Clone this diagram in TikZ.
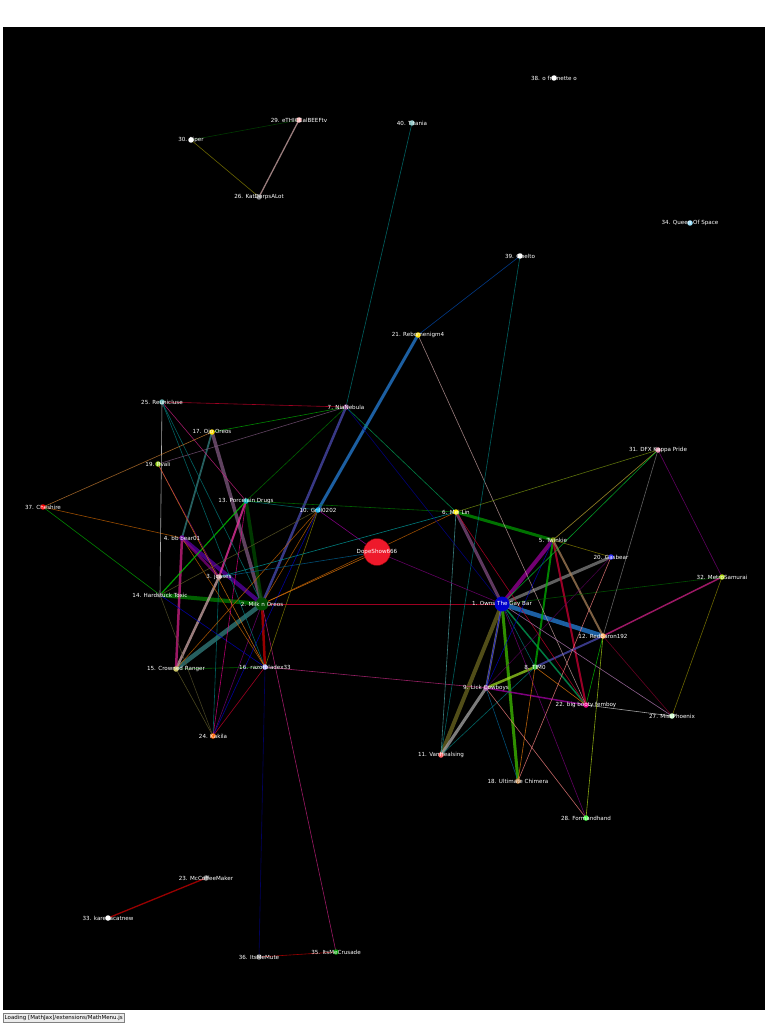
\documentclass[tikz,border=0pt]{standalone}
\usepackage{fontspec}
\setmainfont{DejaVu Sans}
\begin{document}
\begin{tikzpicture}[x=1pt,y=-1pt,
  e/.style={draw=#1,line width=0.6pt,opacity=0.75},
  dot/.style={circle,fill=#1,inner sep=0pt,minimum size=5.5pt},
  lbl/.style={text=white,font=\fontsize{5.6}{6.5}\selectfont,inner sep=0pt}]
\useasboundingbox (0,0) rectangle (768,1024);
\fill[white] (0,0) rectangle (768,1024);
\fill[black] (3,27) rectangle (765,1010);
\foreach \n/\x/\y in {1/502/604,2/262/604,3/219/577,4/182/538,5/553/540,6/456/512,7/346/407,8/535/667,9/486/688,10/318/510,11/441/755,12/603/636,13/246/501,14/160/595,15/176/669,16/265/667,17/212/432,18/518/781,19/158/464,20/611/557,21/418/335,22/586/705,23/206/878,24/213/736,25/162/402,26/259/197,27/672/716,28/586/818,29/299/120,30/191/140,31/658/450,32/722/577,33/108/918,34/690/223,35/336/952,36/259/957,37/43/507,38/554/78,39/520/256,40/412/123,41/377/552}
  \coordinate (n\n) at (\x,\y);
% thick edges
\draw[e=green!50!black,line width=4pt] (n2)--(n14);
\draw[e=violet!70!blue,line width=4pt] (n2)--(n4);
\draw[e=gray!70!violet,line width=3.5pt] (n2)--(n17);
\draw[e=teal!60!gray,line width=4.5pt] (n2)--(n15);
\draw[e=gray!60!blue,line width=2.5pt] (n2)--(n7);
\draw[e=green!30!black,line width=3.5pt] (n2)--(n13);
\draw[e=red!80!black,line width=2.5pt] (n2)--(n16);
\draw[e=pink!60!gray,line width=2.5pt] (n3)--(n15);
\draw[e=magenta!80,line width=2pt] (n3)--(n13);
\draw[e=violet,line width=2.5pt] (n3)--(n4);
\draw[e=magenta!70!violet,line width=2.5pt] (n4)--(n15);
\draw[e=teal!60!gray,line width=1.8pt] (n4)--(n17);
\draw[e=blue!50!cyan!70!gray,line width=3pt] (n10)--(n21);
\draw[e=green!60!black,line width=3pt] (n6)--(n5);
\draw[e=gray!60!violet,line width=3pt] (n6)--(n1);
\draw[e=violet!80!magenta,line width=4pt] (n1)--(n5);
\draw[e=gray,line width=3pt] (n1)--(n20);
\draw[e=blue!50!cyan!70!gray,line width=4.5pt] (n1)--(n12);
\draw[e=olive!70!black,line width=4pt] (n1)--(n11);
\draw[e=green!50!olive,line width=3pt] (n1)--(n18);
\draw[e=gray,line width=2pt] (n1)--(n9);
\draw[e=teal!70!green,line width=1.5pt] (n1)--(n22);
\draw[e=green!70!black,line width=2pt] (n5)--(n8);
\draw[e=purple!80!red,line width=2pt] (n5)--(n22);
\draw[e=brown!60!gray,line width=2pt] (n5)--(n12);
\draw[e=gray!60!blue,line width=2pt] (n8)--(n12);
\draw[e=yellow!60!green,line width=2.5pt] (n8)--(n9);
\draw[e=gray!70,line width=3pt] (n9)--(n11);
\draw[e=violet!70!magenta,line width=1.5pt] (n9)--(n22);
\draw[e=magenta!70!violet,line width=1.5pt] (n12)--(n32);
\draw[e=red!80!black,line width=1.3pt] (n23)--(n33);
\draw[e=pink!60!gray,line width=1.3pt] (n29)--(n26);
\draw[e=green!40!black] (n5)--(n31);
% thin edges
\draw[e=orange!80!black] (n2)--(n10);
\draw[e=purple!70!red] (n2)--(n1);
\draw[e=orange!80!black] (n2)--(n6);
\draw[e=teal] (n2)--(n25);
\draw[e=violet] (n2)--(n24);
\draw[e=magenta!70!violet] (n2)--(n35);
\draw[e=orange!80!black] (n4)--(n16);
\draw[e=orange!80!black] (n4)--(n37);
\draw[e=green!70!black] (n14)--(n37);
\draw[e=green!80!black,line width=1.2pt] (n14)--(n13);
\draw[e=white!80!gray] (n14)--(n25);
\draw[e=blue!80!black] (n14)--(n16);
\draw[e=olive!60!black] (n14)--(n10);
\draw[e=olive!50!black] (n14)--(n24);
\draw[e=green!50!black] (n15)--(n16);
\draw[e=olive!60!black] (n15)--(n24);
\draw[e=magenta!60!violet] (n16)--(n9);
\draw[e=blue!50!black] (n16)--(n36);
\draw[e=purple!70!red] (n16)--(n24);
\draw[e=blue!80!black] (n24)--(n10);
\draw[e=magenta] (n24)--(n13);
\draw[e=teal] (n24)--(n3);
\draw[e=purple!70!red] (n25)--(n7);
\draw[e=teal] (n25)--(n16);
\draw[e=magenta!70!violet] (n25)--(n13);
\draw[e=green!70!black] (n17)--(n7);
\draw[e=brown!80!orange] (n37)--(n17);
\draw[e=violet] (n19)--(n3);
\draw[e=orange!70!brown] (n19)--(n16);
\draw[e=gray!70!violet] (n19)--(n7);
\draw[e=violet!70!magenta] (n10)--(n41);
\draw[e=teal] (n10)--(n13);
\draw[e=olive] (n10)--(n16);
\draw[e=orange!80!black] (n10)--(n15);
\draw[e=teal!70!cyan] (n3)--(n6);
\draw[e=green!50!black] (n13)--(n6);
\draw[e=green!50!black] (n13)--(n7);
\draw[e=teal] (n7)--(n40);
\draw[e=teal!70!green] (n7)--(n6);
\draw[e=blue!60!black] (n7)--(n1);
\draw[e=blue!40!teal] (n21)--(n39);
\draw[e=pink!60!gray] (n21)--(n22);
\draw[e=teal] (n39)--(n11);
\draw[e=olive!70!green] (n6)--(n31);
\draw[e=teal!70] (n6)--(n11);
\draw[e=purple!70!red] (n6)--(n22);
\draw[e=violet] (n41)--(n1);
\draw[e=orange!80!brown] (n41)--(n2);
\draw[e=violet] (n1)--(n28);
\draw[e=green!40!black] (n1)--(n32);
\draw[e=violet!50!white] (n1)--(n27);
\draw[e=blue] (n1)--(n9);
\draw[e=teal] (n1)--(n8);
\draw[e=brown!80!orange] (n5)--(n31);
\draw[e=olive] (n5)--(n20);
\draw[e=blue!80!black] (n5)--(n9);
\draw[e=orange!80!brown] (n8)--(n18);
\draw[e=orange!80!brown] (n8)--(n22);
\draw[e=teal] (n8)--(n11);
\draw[e=pink!70!red] (n9)--(n28);
\draw[e=teal!80!blue] (n9)--(n18);
\draw[e=white!70!gray] (n22)--(n27);
\draw[e=green!80!black] (n12)--(n22);
\draw[e=yellow!70!green] (n12)--(n28);
\draw[e=purple!70!black] (n12)--(n27);
\draw[e=pink!70!red] (n20)--(n18);
\draw[e=violet!70!black] (n20)--(n9);
\draw[e=violet] (n31)--(n32);
\draw[e=gray] (n31)--(n12);
\draw[e=green!60!teal] (n31)--(n1);
\draw[e=olive] (n32)--(n27);
\draw[e=red!80!black] (n35)--(n36);
\draw[e=olive] (n30)--(n26);
\draw[e=green!30!black] (n30)--(n29);
\draw[e=teal!80!blue] (n41)--(n3);
% dots
\foreach \n/\c in {1/blue,2/green!30!black,3/pink!60!gray,4/violet!80!blue,5/olive!70!green,6/yellow,7/violet!50!gray,8/green!50!gray,9/violet!60!white,10/cyan,11/red!60!white,12/orange!70!white,13/cyan!60!green,14/gray!40!black,15/yellow!50!gray,16/blue!30!white,17/yellow!80!orange,18/brown,19/yellow!60!green,20/blue!80!white,21/yellow!80!orange,22/magenta,23/gray,24/orange!80!red,25/teal!60!white,26/gray,27/green!20!white,28/green!70!white,29/pink,30/white,31/pink!80!violet,32/yellow!70!green,33/white,34/cyan!40!white,35/green!60!black,36/gray,37/red,38/white,39/white,40/teal!50!white}
  \node[dot=\c] at (n\n) {};
\node[dot=blue!80!black,minimum size=15pt] at (n1) {};
\node[dot=green!30!black,minimum size=13pt] at (n2) {};
\node[dot=red!70!purple!90!white,minimum size=27pt,draw=red!40!black] at (n41) {};
% labels
\foreach \n/\t in {1/1. Owns The Gay Bar,2/2. Milk n Oreos,3/3. jcases,4/4. bb bear01,5/5. Twinkie,6/6. Mei Lin,7/7. NiaNebula,8/8. TIM0,9/9. Lick Cowboys,10/10. Grill0202,11/11. VanHealsing,12/12. RedBaron192,13/13. Porcelain Drugs,14/14. Hardstuck Toxic,15/15. Crowned Ranger,16/16. razorbladex33,17/17. Ojo Oreos,18/18. Ultimate Chimera,19/19. Rvali,20/20. Gasbear,21/21. Rebornenigm4,22/22. big booty femboy,23/23. McCoffeeMaker,24/24. Kakila,25/25. Reunicluse,26/26. KatDerpsALot,27/27. MissPhoenix,28/28. Formandhand,29/29. eTHICCalBEEFtv,30/30. Piper,31/31. DFX Kappa Pride,32/32. MetroSamurai,33/33. karenacatnew,34/34. Queen Of Space,35/35. ItsMeCrusade,36/36. ItsMeMute,37/37. Cheshire,38/38. o frainette o,39/39. Obelto,40/40. Titania,41/DopeShow666}
  \node[lbl] at (n\n) {\t};
\node[draw=gray,fill=gray!15,inner sep=1.5pt,anchor=south west,font=\fontsize{5.5}{6}\selectfont] (loading) at (3,1022) {Loading [MathJax]/extensions/MathMenu.js};
\end{tikzpicture}
\end{document}
